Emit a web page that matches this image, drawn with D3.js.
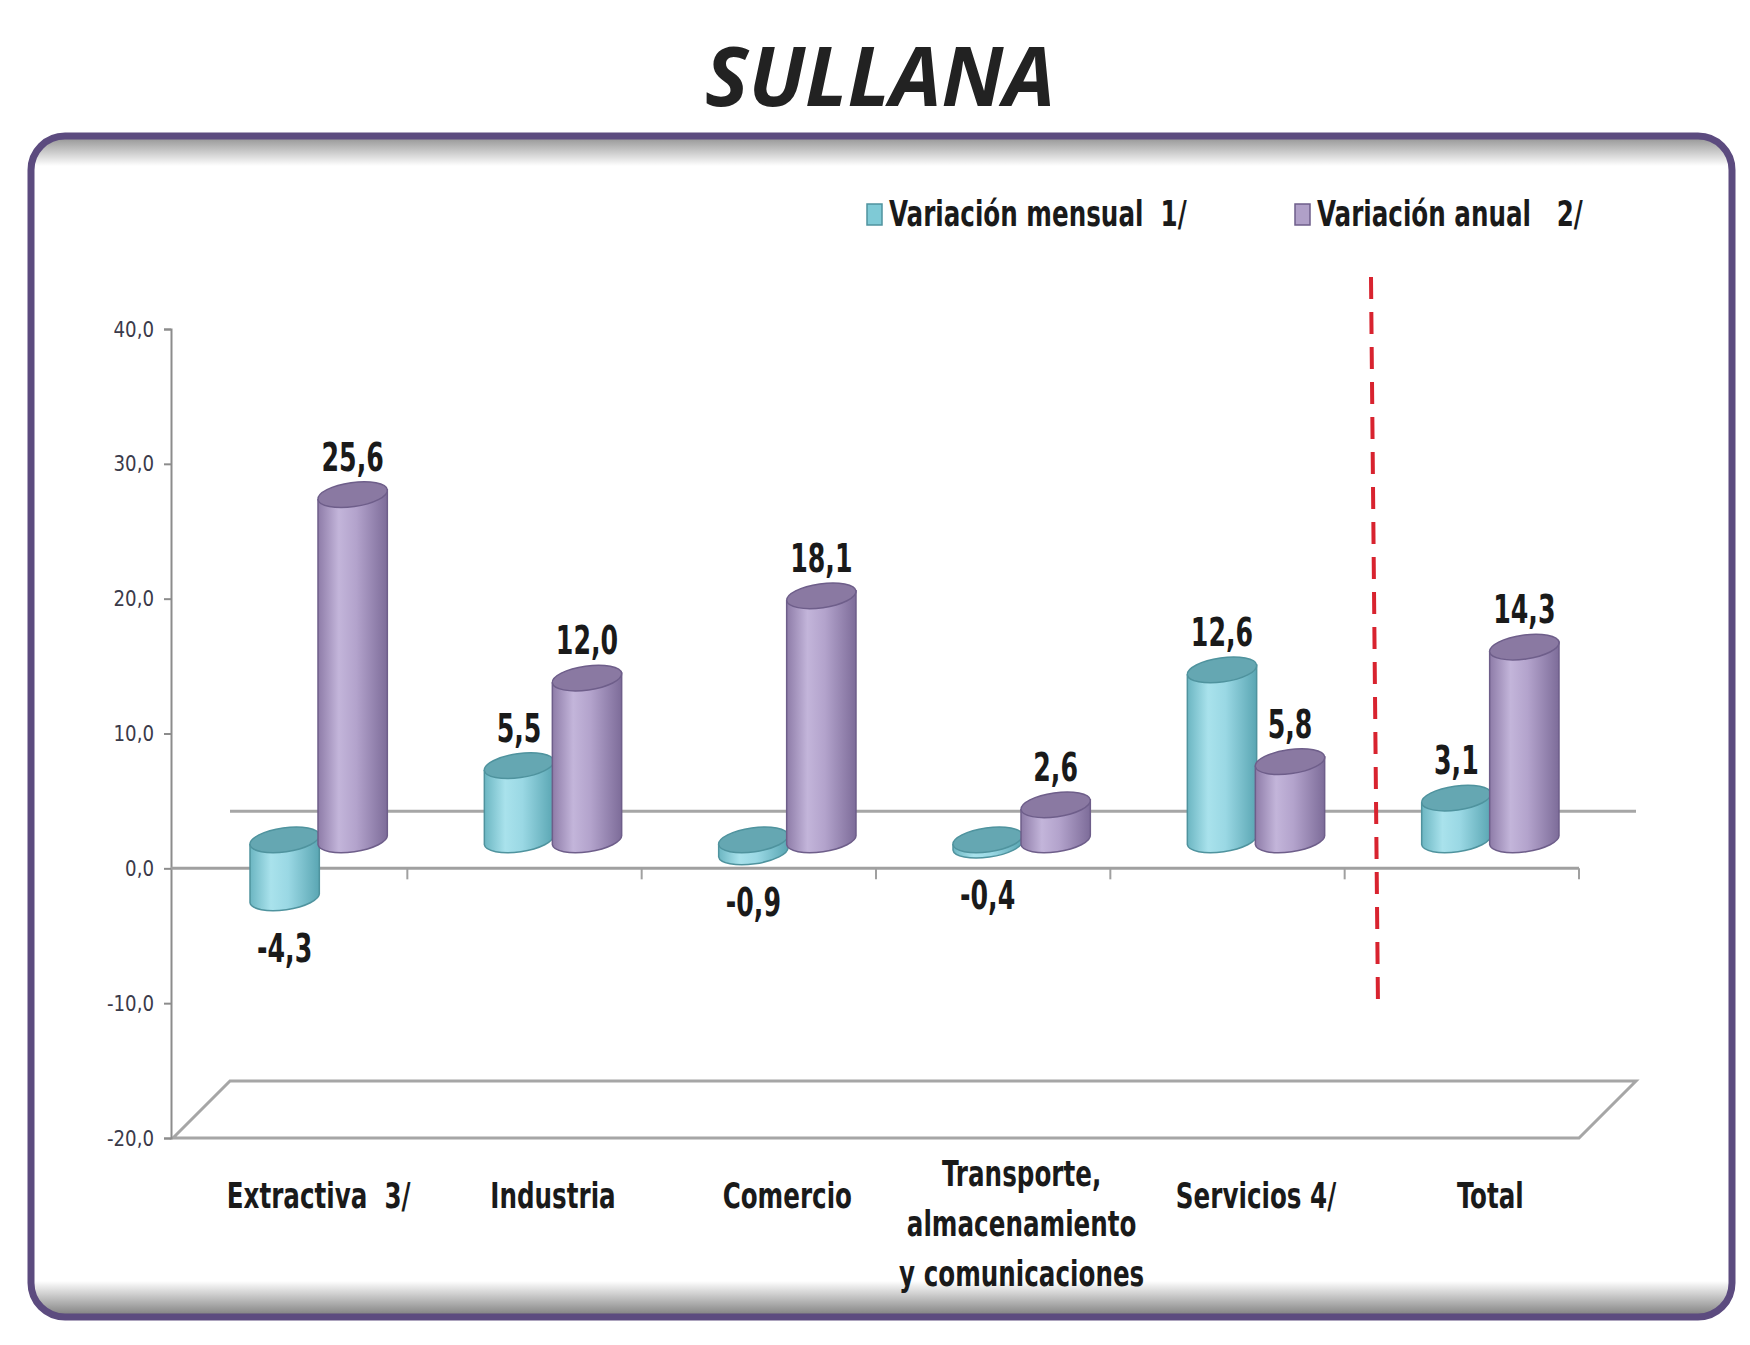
<!DOCTYPE html>
<html>
<head>
<meta charset="utf-8">
<script src="https://cdn.jsdelivr.net/npm/d3@7"></script>
<style>
  body { margin: 0; background: #fff; }
  svg text { font-family: 'Liberation Sans Narrow', 'DejaVu Sans Condensed', 'Open Sans', sans-serif; font-weight: bold; white-space: pre; }
</style>
</head>
<body>
<div id="container"></div>
<script>
// data
const categories = [["Extractiva  3/"], ["Industria"], ["Comercio"],
                    ["Transporte,", "almacenamiento", "y comunicaciones"], ["Servicios 4/"], ["Total"]];
const seriesNames = ["Variación mensual  1/", "Variación anual   2/"];
const mensual = [-4.3, 5.5, -0.9, -0.4, 12.6, 3.1];
const anual = [25.6, 12.0, 18.1, 2.6, 5.8, 14.3];
const yTicks = [40, 30, 20, 10, 0, -10, -20];

const width = 1750, height = 1345;
const depth = 57; // 3d depth offset of the floor
const half = depth / 2;
const fmt = v => d3.format(".1f")(v).replace(".", ",").replace("\u2212", "-");

const svg = d3.select("#container").append("svg")
  .attr("width", width).attr("height", height);
const defs = svg.append("defs");

// gradients for cylinders
function bodyGrad(id, stops) {
  const g = defs.append("linearGradient").attr("id", id)
    .attr("x1", "0%").attr("x2", "100%").attr("y1", "0%").attr("y2", "0%");
  stops.forEach(s => g.append("stop").attr("offset", s[0]).attr("stop-color", s[1]));
}
bodyGrad("cyanBody", [["0%", "#6cb6c2"], ["30%", "#a9e2ec"], ["55%", "#9ad8e4"], ["100%", "#5aa6b3"]]);
bodyGrad("purpBody", [["0%", "#8e7ca8"], ["30%", "#c3b5da"], ["55%", "#b3a3cc"], ["100%", "#7d6c99"]]);

const colors = {
  body: ["url(#cyanBody)", "url(#purpBody)"],
  top: ["#65a7b2", "#8a79a2"],
  stroke: ["#4f939e", "#6e5e8a"],
  legend: ["#7fcad6", "#b0a0c8"]
};

// frame with inner shadow
const frame = { x: 31, y: 136, w: 1701, h: 1181, r: 34 };
defs.append("clipPath").attr("id", "frameClip").append("rect")
  .attr("x", frame.x).attr("y", frame.y).attr("width", frame.w).attr("height", frame.h).attr("rx", frame.r);
const vg = (id, c1, c2) => {
  const g = defs.append("linearGradient").attr("id", id).attr("x1", 0).attr("x2", 0).attr("y1", 0).attr("y2", 1);
  g.append("stop").attr("offset", "0%").attr("stop-color", c1);
  g.append("stop").attr("offset", "100%").attr("stop-color", c2);
};
vg("shTop", "#8f8f8f", "#ffffff");
vg("shBot", "#ffffff", "#7a7a7a");
svg.append("rect").attr("x", frame.x).attr("y", frame.y).attr("width", frame.w).attr("height", frame.h)
  .attr("rx", frame.r).attr("fill", "#fff");
const sh = svg.append("g").attr("clip-path", "url(#frameClip)");
sh.append("rect").attr("x", frame.x).attr("y", frame.y).attr("width", frame.w).attr("height", 30).attr("fill", "url(#shTop)");
sh.append("rect").attr("x", frame.x).attr("y", frame.y + frame.h - 36).attr("width", frame.w).attr("height", 36).attr("fill", "url(#shBot)");
svg.append("rect").attr("x", frame.x).attr("y", frame.y).attr("width", frame.w).attr("height", frame.h)
  .attr("rx", frame.r).attr("fill", "none").attr("stroke", "#5c4b7f").attr("stroke-width", 7);

// title
svg.append("text").attr("x", 880).attr("y", 106).attr("text-anchor", "middle")
  .style("font-family", "'Open Sans', sans-serif").style("font-style", "italic")
  .style("font-size", "82px").attr("fill", "#222").text("SULLANA");

// scales
const yScale = d3.scaleLinear().domain([-20, 40]).range([1138, 329]);
const x0 = d3.scaleBand().domain(d3.range(categories.length)).range([173, 1579]).padding(0);
const cw = x0.bandwidth();
const x1 = d3.scaleBand().domain([0, 1]).range([cw / 2 - 68, cw / 2 + 68]).padding(0);

// floor parallelogram
const floorY = yScale(-20);
svg.append("path")
  .attr("d", `M${x0.range()[0]},${floorY} L${x0.range()[1]},${floorY} L${x0.range()[1] + depth},${floorY - depth} L${x0.range()[0] + depth},${floorY - depth} Z`)
  .attr("fill", "none").attr("stroke", "#a6a6a6").attr("stroke-width", 3);

// back wall zero line
svg.append("line").attr("x1", x0.range()[0] + depth).attr("x2", x0.range()[1] + depth)
  .attr("y1", yScale(0) - depth).attr("y2", yScale(0) - depth)
  .attr("stroke", "#a6a6a6").attr("stroke-width", 3);

// y axis
const yAxis = d3.axisLeft(yScale).tickValues(yTicks).tickSize(7).tickPadding(10).tickFormat(fmt);
const yg = svg.append("g").attr("transform", "translate(171,0)").call(yAxis);
yg.select(".domain").attr("stroke", "#8c8c8c").attr("stroke-width", 2);
yg.selectAll(".tick line").attr("stroke", "#8c8c8c").attr("stroke-width", 2);
yg.selectAll(".tick text").attr("fill", "#3a3a4a").style("font-size", "22px").style("font-weight", "normal")
  .attr("transform", "scale(0.92,1)").attr("x", -17 / 0.92);

// x axis at zero (front plane)
const xAxisLine = svg.append("g");
xAxisLine.append("line").attr("x1", 171).attr("x2", x0.range()[1]).attr("y1", yScale(0)).attr("y2", yScale(0))
  .attr("stroke", "#a0a0a0").attr("stroke-width", 3);
xAxisLine.selectAll("line.tk").data(d3.range(1, categories.length + 1)).join("line").attr("class", "tk")
  .attr("x1", i => x0.range()[0] + i * cw).attr("x2", i => x0.range()[0] + i * cw)
  .attr("y1", yScale(0)).attr("y2", yScale(0) + 11)
  .attr("stroke", "#a0a0a0").attr("stroke-width", 2);

// cylinders
const rx = 35, ry = 12, ang = -8;
const rad = ang * Math.PI / 180;
const bars = [];
categories.forEach((c, i) => {
  [mensual[i], anual[i]].forEach((v, s) => {
    const cx = x0(i) + x1(s) + x1.bandwidth() / 2 + half;
    bars.push({ i, s, v, cx, y0: yScale(0) - half, yv: yScale(v) - half });
  });
});

const ex = rx * Math.cos(rad), ey = rx * Math.sin(rad);
const gBars = svg.append("g");
bars.forEach(d => {
  const top = Math.min(d.y0, d.yv), bot = Math.max(d.y0, d.yv);
  const g = gBars.append("g");
  g.append("path")
    .attr("d", `M${d.cx - ex},${top - ey} L${d.cx - ex},${bot - ey} A${rx},${ry} ${ang} 0 0 ${d.cx + ex},${bot + ey} L${d.cx + ex},${top + ey} Z`)
    .attr("fill", colors.body[d.s]).attr("stroke", colors.stroke[d.s]).attr("stroke-width", 1.5);
  g.append("ellipse").attr("cx", d.cx).attr("cy", top).attr("rx", rx).attr("ry", ry)
    .attr("transform", `rotate(${ang},${d.cx},${top})`)
    .attr("fill", colors.top[d.s]).attr("stroke", colors.stroke[d.s]).attr("stroke-width", 1.5);
});

// value labels (condensed horizontally like the original)
svg.append("g").selectAll("text").data(bars).join("text")
  .attr("transform", d => `translate(${d.cx},${d.v >= 0 ? d.yv - 24 : d.yv + 64}) scale(0.72,1)`)
  .attr("text-anchor", "middle").attr("fill", "#1a1a1a").style("font-size", "39px")
  .text(d => fmt(d.v));

// category labels
const catG = svg.append("g").selectAll("text").data(categories).join("text")
  .attr("text-anchor", "middle").attr("fill", "#1a1a1a").style("font-size", "36px")
  .attr("transform", (d, i) => `translate(${x0(i) + cw / 2 + half},${d.length > 1 ? 1186 : 1208}) scale(0.76,1)`);
catG.selectAll("tspan").data(d => d).join("tspan")
  .attr("x", 0).attr("dy", (d, k) => k === 0 ? 0 : 50).text(d => d);

// red dashed separator
svg.append("line").attr("x1", 1371).attr("y1", 277).attr("x2", 1378).attr("y2", 1007)
  .attr("stroke", "#d8232f").attr("stroke-width", 4).attr("stroke-dasharray", "22,13");

// legend
const legendX = [867, 1295];
const lg = svg.append("g").selectAll("g").data(seriesNames).join("g")
  .attr("transform", (d, i) => `translate(${legendX[i]},204)`);
lg.append("rect").attr("width", 15).attr("height", 21).attr("fill", (d, i) => colors.legend[i])
  .attr("stroke", (d, i) => colors.stroke[i]).attr("stroke-width", 1.5);
lg.append("text").attr("transform", "translate(22,22) scale(0.76,1)").attr("fill", "#1a1a1a")
  .style("font-size", "36px").text(d => d);
</script>
</body>
</html>
